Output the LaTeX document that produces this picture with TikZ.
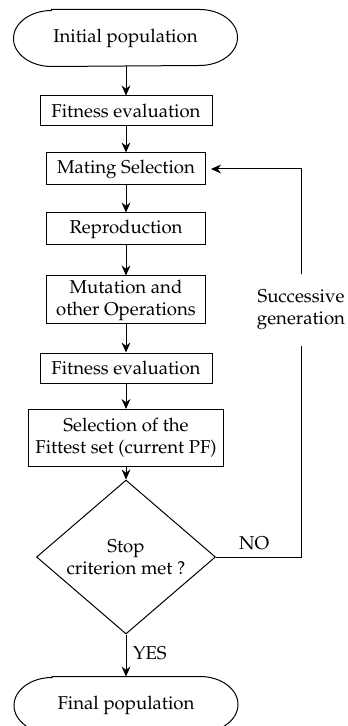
\documentclass[tikz,border=0pt]{standalone}
\usepackage[T1]{fontenc}
\usepackage{mathpazo}
\usepackage{tikz}
\usetikzlibrary{arrows.meta, positioning, shapes.geometric}

\newcommand{\stadium}[1]{%
  \draw ([xshift=19pt]#1.north west) -- ([xshift=-19pt]#1.north east)
    arc[start angle=90, end angle=-90, x radius=19pt, y radius=14pt]
    -- ([xshift=19pt]#1.south west)
    arc[start angle=270, end angle=90, x radius=19pt, y radius=14pt] -- cycle;}

\begin{document}
\begin{tikzpicture}[
    x=0.5pt, y=-0.5pt,
    >={Stealth[length=5pt, width=4.4pt]},
    line width=0.5pt,
    font=\fontsize{9.3}{11}\selectfont,
    terminal/.style={minimum width=111.5pt, minimum height=28pt, inner sep=0pt},
    process/.style={draw, align=center, inner sep=0pt, minimum height=15pt},
    decision/.style={draw, diamond, align=center, inner sep=0pt, minimum width=89.5pt, minimum height=67.5pt},
    lbl/.style={align=center, inner sep=0pt}
  ]

  \useasboundingbox (0,0) rectangle (347,726);

  % Main column
  \node[terminal] (init) at (125.5,38) {Initial population};
  \node[process, minimum width=86pt] (fit1) at (126,111) {Fitness evaluation};
  \node[process, minimum width=79.5pt, minimum height=16pt] (mating) at (126,169) {Mating Selection};
  \node[process, minimum width=79.5pt, minimum height=16pt] (repro) at (126,229) {Reproduction};
  \node[process, minimum width=79.5pt, minimum height=24pt] (mut) at (126,300) {Mutation and\\other Operations};
  \node[process, minimum width=86pt] (fit2) at (126,368) {Fitness evaluation};
  \node[process, minimum width=97.5pt, minimum height=28.5pt] (fittest) at (126,438) {Selection of the\\Fittest set (current PF)};
  \node[decision] (stop) at (126,557) {Stop\\criterion met ?};
  \node[terminal] (final) at (126,705) {Final population};
  \stadium{init}
  \stadium{final}

  % Loop label
  \node[lbl, inner ysep=7.5pt] (succ) at (301,310) {Successive\\generation};

  % Arrows
  \draw[->] (init.south -| fit1) -- (fit1);
  \draw[->] (fit1) -- (mating);
  \draw[->] (mating) -- (repro);
  \draw[->] (repro) -- (mut);
  \draw[->] (mut) -- (fit2);
  \draw[->] (fit2) -- (fittest);
  \draw[->] (fittest) -- (stop);
  \draw[->] (stop) -- node[right, pos=0.45] {YES} (final);

  % Feedback loop
  \draw (stop.east) -- node[above, pos=0.45] {NO} (stop.east -| succ.south) -- (succ.south);
  \draw[->, shorten >=2.5pt] (succ.north) |- (mating.east);

\end{tikzpicture}
\end{document}
